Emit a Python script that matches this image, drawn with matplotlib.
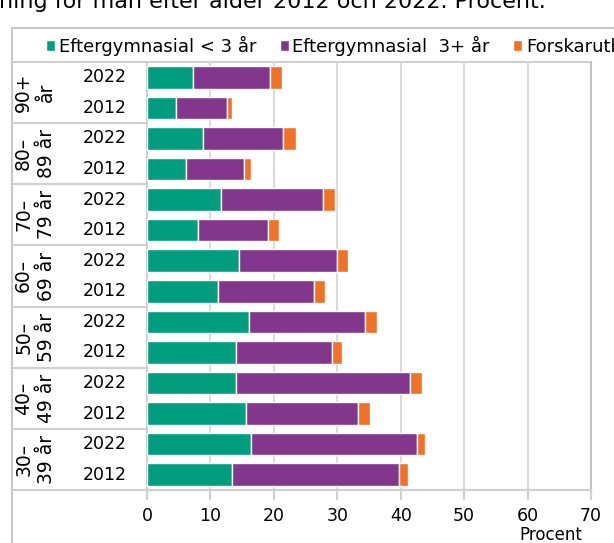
import numpy as np
import matplotlib.pyplot as plt
from matplotlib.lines import Line2D
from matplotlib.transforms import blended_transform_factory

groups = ['90+\når', '80–\n89 år', '70–\n79 år', '60–\n69 år',
          '50–\n59 år', '40–\n49 år', '30–\n39 år']
years = ['2022', '2012']

# value per group: [2022, 2012]
kort = [[7.3, 4.6], [8.8, 6.2], [11.7, 8.1], [14.5, 11.2],
        [16.1, 14.1], [14.1, 15.6], [16.4, 13.4]]
lang = [[12.1, 8.0], [12.7, 9.1], [16.1, 11.0], [15.5, 15.2],
        [18.3, 15.0], [27.3, 17.7], [26.1, 26.4]]
forskar = [[1.9, 0.8], [2.0, 1.1], [1.9, 1.7], [1.7, 1.6],
           [1.9, 1.7], [2.0, 1.8], [1.3, 1.3]]

series_names = ['Eftergymnasial < 3 år', 'Eftergymnasial  3+ år', 'Forskarutbildning']
colors = ['#009E7E', '#82368C', '#F07226']

W, H = 614, 543
fig = plt.figure(figsize=(W / 100, H / 100), dpi=100)
ax = fig.add_axes([147 / W, 1 - 490 / H, 444 / W, 428 / H])

n = len(groups)
ypos = []
v1, v2, v3 = [], [], []
for g in range(n):
    for k in range(2):
        ypos.append(2 * n - 1 - (2 * g + k))
        v1.append(kort[g][k])
        v2.append(lang[g][k])
        v3.append(forskar[g][k])
ypos = np.array(ypos)
v1, v2, v3 = np.array(v1), np.array(v2), np.array(v3)

bh = 0.74
b1 = ax.barh(ypos, v1, height=bh, color=colors[0], edgecolor='white', linewidth=1, label=series_names[0], zorder=3)
b2 = ax.barh(ypos, v2, left=v1, height=bh, color=colors[1], edgecolor='white', linewidth=1, label=series_names[1], zorder=3)
b3 = ax.barh(ypos, v3, left=v1 + v2, height=bh, color=colors[2], edgecolor='white', linewidth=1, label=series_names[2], zorder=3)

ax.set_xlim(0, 70)
ax.set_ylim(-0.5, 2 * n - 0.5)
ax.set_xticks(range(0, 71, 10))
ax.tick_params(axis='x', length=7, width=1.5, color='#d0d0d0', labelsize=12.5, pad=5)
ax.set_yticks([])
ax.grid(axis='x', color='#dadada', linewidth=1.5, zorder=0)
for s in ['top', 'left', 'bottom']:
    ax.spines[s].set_color('#d0d0d0')
    ax.spines[s].set_linewidth(1.5)
ax.spines['top'].set_visible(False)
ax.spines['right'].set_color('#c4c4c4')
ax.spines['right'].set_linewidth(1.5)

tr = blended_transform_factory(ax.transAxes, ax.transData)
xl = (11.5 - 147) / 444
# group separators in the left table, top and bottom lines across everything
for yb in np.arange(2 * n - 0.5, -1, -2):
    x1 = 0 if (yb != 2 * n - 0.5 and yb != -0.5) else 1
    ax.plot([xl, x1], [yb, yb], transform=tr, color='#d0d0d0', lw=1.5, clip_on=False, zorder=1)

for g in range(n):
    yc = 2 * n - 1 - 2 * g - 0.5
    ax.text((35 - 147) / 444, yc, groups[g], transform=tr, rotation=90,
            ha='center', va='center', fontsize=13.5, multialignment='center', linespacing=1.25)
for i, y in enumerate(ypos):
    ax.text((127 - 147) / 444, y, years[i % 2], transform=tr, ha='right', va='center', fontsize=12.5)

ax.text(0.98, -0.083, 'Procent', transform=ax.transAxes, ha='right', va='top', fontsize=12)

# outer frame
fig.add_artist(Line2D([11.5 / W, 11.5 / W], [0, 1 - 28 / H], color='#c8c8c8', lw=1.5))
fig.add_artist(Line2D([11.5 / W, 1.0], [1 - 28 / H, 1 - 28 / H], color='#c8c8c8', lw=1.5))

fig.text(-0.002, 1 - 8 / H, 'ning för män efter ålder 2012 och 2022. Procent.',
         ha='left', va='baseline', fontsize=16)

fig.legend(handles=[b1, b2, b3], loc='center left', bbox_to_anchor=(46 / W, 1 - 46 / H),
           ncol=3, frameon=False, fontsize=13, handlelength=0.5, handleheight=0.5,
           handletextpad=0.2, columnspacing=1.3, borderpad=0, borderaxespad=0)

fig.savefig('out.png', dpi=100)
